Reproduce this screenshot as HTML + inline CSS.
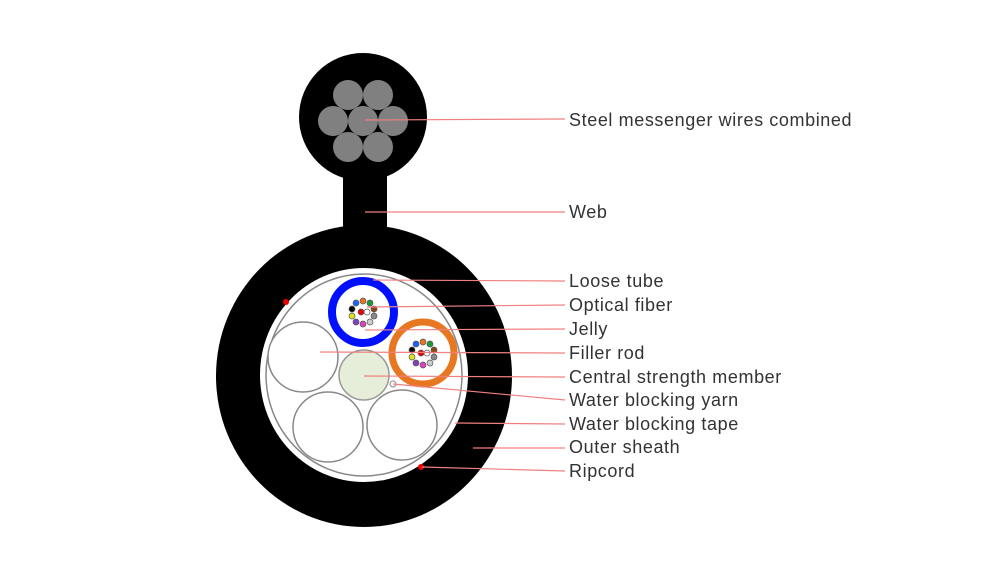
<!DOCTYPE html>
<html><head><style>body{margin:0;background:#fff}</style></head><body>
<svg width="1000" height="578" viewBox="0 0 1000 578" xmlns="http://www.w3.org/2000/svg" font-family="Liberation Sans, sans-serif">
<rect width="1000" height="578" fill="#fff"/>
<circle cx="363" cy="117" r="64" fill="#000"/>
<rect x="343" y="170" width="44" height="70" fill="#000"/>
<g fill="#808080">
<circle cx="363" cy="121" r="15"/><circle cx="333" cy="121" r="15"/><circle cx="393" cy="121" r="15"/>
<circle cx="348" cy="95" r="15"/><circle cx="378" cy="95" r="15"/>
<circle cx="348" cy="147" r="15"/><circle cx="378" cy="147" r="15"/>
</g>
<ellipse cx="364" cy="376" rx="148" ry="151" fill="#000"/>
<ellipse cx="364" cy="375" rx="104" ry="107" fill="#fff"/>
<ellipse cx="364" cy="375" rx="98" ry="101" fill="none" stroke="#888" stroke-width="1.5"/>
<g fill="#fff" stroke="#888" stroke-width="1.5">
<circle cx="303" cy="357" r="35"/><circle cx="328" cy="427" r="35"/><circle cx="402" cy="425" r="35"/>
</g>
<circle cx="364" cy="375" r="25" fill="#e6edd8" stroke="#999" stroke-width="1.5"/>
<circle cx="393" cy="384" r="3" fill="#fff" stroke="#888"/>
<circle cx="363" cy="312" r="31" fill="#fff" stroke="#0010ff" stroke-width="8"/>
<circle cx="423" cy="353" r="31" fill="#fff" stroke="#e87722" stroke-width="7"/>
<g id="f1" stroke="#555" stroke-width="0.7">
<circle cx="363" cy="301" r="3" fill="#e87722"/><circle cx="370" cy="303" r="3" fill="#1a9a3a"/>
<circle cx="374" cy="309" r="3" fill="#8b4513"/><circle cx="374" cy="316" r="3" fill="#888"/>
<circle cx="370" cy="322" r="3" fill="#ccc"/><circle cx="363" cy="324" r="3" fill="#e040c0"/>
<circle cx="356" cy="322" r="3" fill="#8040c0"/><circle cx="352" cy="316" r="3" fill="#e0e020"/>
<circle cx="352" cy="309" r="3" fill="#000"/><circle cx="356" cy="303" r="3" fill="#2060ff"/>
<circle cx="361" cy="312" r="3" fill="#e00"/><circle cx="367" cy="312" r="3" fill="#fff"/>
</g>
<use href="#f1" transform="translate(60,41)"/>
<circle cx="286" cy="302" r="3" fill="#e00"/>
<circle cx="421" cy="467" r="3" fill="#e00"/>
<g stroke="#f08080" stroke-width="1.2">
<line x1="365" y1="120" x2="565" y2="119"/>
<line x1="365" y1="212" x2="565" y2="212"/>
<line x1="373" y1="280" x2="565" y2="281"/>
<line x1="367" y1="307" x2="565" y2="305"/>
<line x1="365" y1="330" x2="565" y2="329"/>
<line x1="320" y1="352" x2="565" y2="353"/>
<line x1="364" y1="376" x2="565" y2="377"/>
<line x1="393" y1="384" x2="565" y2="400"/>
<line x1="455" y1="423" x2="565" y2="424"/>
<line x1="473" y1="448" x2="565" y2="448"/>
<line x1="422" y1="467" x2="565" y2="471"/>
</g>
<g font-size="18" fill="#333" letter-spacing="0.6">
<text x="569" y="126">Steel messenger wires combined</text>
<text x="569" y="218">Web</text>
<text x="569" y="287">Loose tube</text>
<text x="569" y="311">Optical fiber</text>
<text x="569" y="335">Jelly</text>
<text x="569" y="359">Filler rod</text>
<text x="569" y="383">Central strength member</text>
<text x="569" y="406">Water blocking yarn</text>
<text x="569" y="430">Water blocking tape</text>
<text x="569" y="453">Outer sheath</text>
<text x="569" y="477">Ripcord</text>
</g>
</svg>
</body></html>
